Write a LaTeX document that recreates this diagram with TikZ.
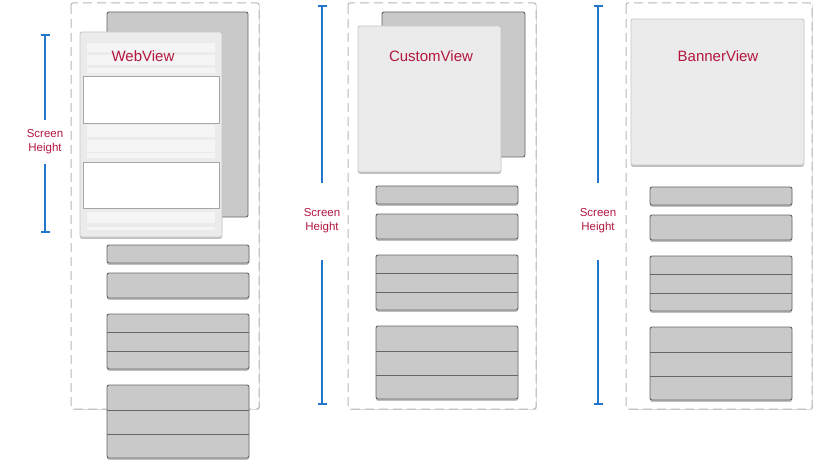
\documentclass[tikz,border=0pt]{standalone}
\usepackage{fontspec}
\setmainfont{Liberation Sans}
\usetikzlibrary{shadows,arrows.meta}
\definecolor{labelred}{HTML}{B3173F}
\definecolor{rulerblue}{HTML}{2277CC}
\definecolor{barfill}{HTML}{C9C9C9}
\definecolor{barline}{HTML}{666666}
\definecolor{panelfill}{HTML}{EBEBEB}
\definecolor{stripfill}{HTML}{F5F5F5}
\tikzset{
  screen/.style={draw=black!28, line width=1pt, dash pattern=on 9pt off 5pt, fill=white, rounded corners=2pt,
    drop shadow={shadow xshift=0.8pt, shadow yshift=-0.8pt, opacity=0.3}},
  backpanel/.style={draw=barline, line width=0.9pt, fill=barfill, rounded corners=2pt},
  frontpanel/.style={draw=black!22, line width=0.9pt, fill=panelfill, rounded corners=2pt,
    drop shadow={shadow xshift=0pt, shadow yshift=-1.8pt, opacity=0.5}},
  bar/.style={draw=barline, line width=0.9pt, fill=barfill, rounded corners=2pt,
    drop shadow={shadow xshift=0pt, shadow yshift=-1.8pt, opacity=0.5}},
  barsep/.style={draw=barline, line width=0.9pt},
  strip/.style={fill=stripfill},
  webbox/.style={draw=black!35, line width=0.8pt, fill=white},
  viewlabel/.style={text=labelred, font=\fontsize{15}{18}\selectfont},
  rulerlabel/.style={text=labelred, align=center, font=\fontsize{11.5}{14}\selectfont},
  ruler/.style={draw=rulerblue, line width=2.4pt}
}
\begin{document}
\begin{tikzpicture}[x=1pt,y=-1pt]
  \useasboundingbox (0,0) rectangle (816,465);
  % screens
  \draw[screen] (71,3) rectangle (259,409);
  \draw[screen] (348,3) rectangle (536,409);
  \draw[screen] (626,3) rectangle (812,409);
  % stacked views
  \draw[backpanel] (107,12) rectangle (248,217);
  \draw[frontpanel] (80,32) rectangle (222,237);
  \foreach \ya/\yb in {43/52,55/65,68/73,125/137,140/152,153/158,212/223,227/230}{
    \fill[strip] (87,\ya) rectangle (215,\yb);
  }
  \draw[webbox] (83,76) rectangle (219,123);
  \draw[webbox] (83,162) rectangle (219,208);
  \draw[backpanel] (382,12) rectangle (525,157);
  \draw[frontpanel] (358,26) rectangle (501,172);
  \draw[frontpanel] (631,19) rectangle (804,165);
  \node[viewlabel] (web) at (143,56) {WebView};
  \node[viewlabel] (custom) at (431,56) {CustomView};
  \node[viewlabel] (banner) at (718,56) {BannerView};
  % cells below
  \foreach \bx/\by in {107/245,376/186,650/187}{
    \draw[bar] (\bx,\by) rectangle ++(142,18);
    \draw[bar] (\bx,\by+28) rectangle ++(142,25);
    \draw[bar] (\bx,\by+69) rectangle ++(142,55);
    \draw[barsep] (\bx,\by+87) -- ++(142,0) (\bx,\by+106) -- ++(142,0);
    \draw[bar] (\bx,\by+140) rectangle ++(142,73);
    \draw[barsep] (\bx,\by+165) -- ++(142,0) (\bx,\by+189) -- ++(142,0);
  }
  % screen height rulers
  \node[rulerlabel] (h1) at (45,142) {Screen\\Height};
  \node[rulerlabel] (h2) at (322,221) {Screen\\Height};
  \node[rulerlabel] (h3) at (598,221) {Screen\\Height};
  \coordinate (t1) at (45,34);  \coordinate (b1) at (45,233);
  \coordinate (t2) at (322,5);  \coordinate (b2) at (322,405);
  \coordinate (t3) at (598,5);  \coordinate (b3) at (598,405);
  \draw[ruler,{Bar[width=9pt,line width=1.6pt]}-] (t1) -- ([yshift=6pt]h1.north);
  \draw[ruler,-{Bar[width=9pt,line width=1.6pt]}] ([yshift=-6pt]h1.south) -- (b1);
  \foreach \i in {2,3}{
    \draw[ruler,{Bar[width=9pt,line width=1.6pt]}-] (t\i) -- ([yshift=22pt]h\i.north);
    \draw[ruler,-{Bar[width=9pt,line width=1.6pt]}] ([yshift=-23pt]h\i.south) -- (b\i);
  }
\end{tikzpicture}
\end{document}
